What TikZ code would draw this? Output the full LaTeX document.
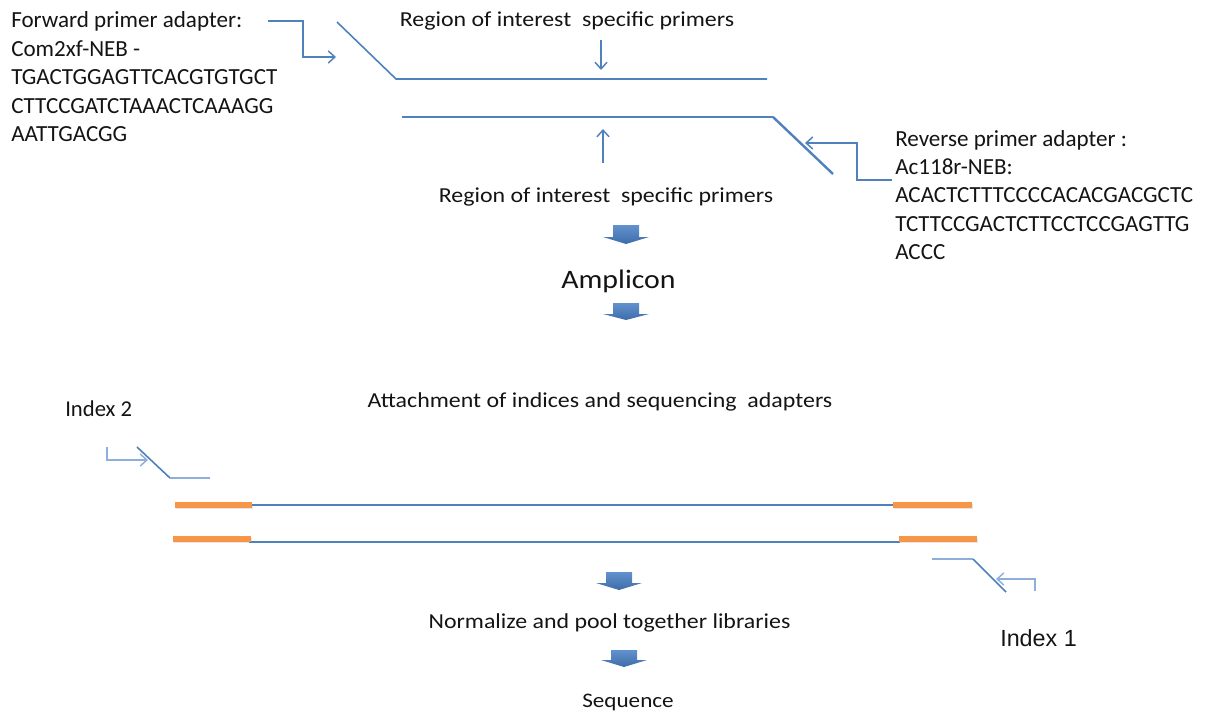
\documentclass[tikz,border=0pt]{standalone}
\usepackage{fontspec}
\setmainfont{Carlito}
\newfontfamily\widefont{Carlito}[FakeStretch=1.12]
\newfontfamily\arialfont{Liberation Sans}
\usetikzlibrary{arrows.meta}
\definecolor{dnablue}{RGB}{79,129,189}
\definecolor{lightblue}{RGB}{141,175,218}
\definecolor{tagorange}{RGB}{247,150,70}
\definecolor{txt}{RGB}{20,20,20}
\definecolor{arrtop}{RGB}{98,146,205}
\definecolor{arrbot}{RGB}{62,108,170}
\newcommand\blockarr[4]{\shade[top color=arrtop,bottom color=arrbot] (#1-13,#2)--(#1+13,#2)--(#1+13,#3)--(#1+23,#3)--(#1,#4)--(#1-23,#3)--(#1-13,#3)--cycle;}
\begin{document}
\begin{tikzpicture}[x=0.75pt,y=-0.75pt,
  seqtxt/.style={anchor=base west,inner sep=0,font=\fontsize{17.3}{21}\selectfont,text=txt},
  steptxt/.style={anchor=base,inner sep=0,font=\widefont\fontsize{16}{19}\selectfont,text=txt},
  strand/.style={draw=dnablue,line width=1.2pt},
  thickstrand/.style={draw=dnablue,line width=1.8pt},
  lightline/.style={draw=lightblue,line width=1.1pt},
  pointer/.style={draw=dnablue,line width=1.1pt,-{Straight Barb[length=5pt,width=9pt]}},
  lightpointer/.style={draw=lightblue,line width=1.1pt,-{Straight Barb[length=5pt,width=9pt]}},
  tag/.style={draw=tagorange,line width=3.8pt},
  tagshadow/.style={draw=black!10,line width=3.8pt}
]
\useasboundingbox (0,0) rectangle (1210,713);

% ---------- forward primer adapter text
\node[seqtxt] (f1) at (11,28) {Forward primer adapter:};
\node[seqtxt] (f2) at (11,56.5) {Com2xf-NEB -};
\node[seqtxt] (f3) at (11,85) {TGACTGGAGTTCACGTGTGCT};
\node[seqtxt] (f4) at (11,113.5) {CTTCCGATCTAAACTCAAAGG};
\node[seqtxt] (f5) at (11,142) {AATTGACGG};

% ---------- reverse primer adapter text
\node[seqtxt] (r1) at (895,147) {Reverse primer adapter :};
\node[seqtxt] (r2) at (895,175) {Ac118r-NEB:};
\node[seqtxt] (r3) at (895,203) {ACACTCTTTCCCCACACGACGCTC};
\node[seqtxt] (r4) at (895,231) {TCTTCCGACTCTTCCTCCGAGTTG};
\node[seqtxt] (r5) at (895,259) {ACCC};

% ---------- region of interest labels
\node[steptxt] (roiTop) at (567,27) {Region of interest\ \ specific primers};
\node[steptxt] (roiBot) at (606,203) {Region of interest\ \ specific primers};

% ---------- primer strands
\coordinate (ts) at (337,22);
\coordinate (tk) at (396,79);
\coordinate (te) at (767,79);
\draw[strand] (ts) -- (tk) -- (te);
\coordinate (bs) at (402,117);
\coordinate (bk) at (773,117);
\coordinate (be) at (833,174);
\draw[strand] (bs) -- (bk);
\draw[thickstrand] (bk) -- (be);

% pointers to strands
\coordinate (dnT) at (601,40);
\coordinate (dnB) at (601,70);
\draw[pointer] (dnT) -- (dnB);
\coordinate (upB) at (603,163);
\coordinate (upT) at (603,129);
\draw[pointer] (upB) -- (upT);

% forward adapter pointer
\coordinate (fa0) at (268,21);
\coordinate (fa1) at (303,21);
\coordinate (fa2) at (303,57);
\coordinate (fa3) at (336,57);
\draw[pointer] (fa0) -- (fa1) -- (fa2) -- (fa3);

% reverse adapter pointer
\coordinate (ra0) at (892,180);
\coordinate (ra1) at (857,180);
\coordinate (ra2) at (857,143);
\coordinate (ra3) at (805,143);
\draw[pointer] (ra0) -- (ra1) -- (ra2) -- (ra3);

% ---------- block arrows and step labels
\blockarr{626}{225}{237}{244}
\node[anchor=base,inner sep=0,font=\widefont\fontsize{20}{24}\selectfont,text=txt] (amp) at (618.5,288) {Amplicon};
\blockarr{626}{303}{314}{320}
\node[steptxt] (attach) at (600,407) {Attachment of indices and sequencing\ \ adapters};
\blockarr{619}{572}{583}{590}
\node[steptxt] (norm) at (609.5,628) {Normalize and pool together libraries};
\blockarr{624}{650}{660}{667}
\node[anchor=base,inner sep=0,font=\widefont\fontsize{15.5}{19}\selectfont,text=txt] (seq) at (628,707) {Sequence};

% ---------- index 2
\node[seqtxt,font=\fontsize{17}{20}\selectfont] (idx2) at (65,416) {Index 2};
\coordinate (i2a) at (107,447);
\coordinate (i2b) at (107,460);
\coordinate (i2c) at (148,460);
\draw[lightpointer] (i2a) -- (i2b) -- (i2c);
\coordinate (i2d) at (137,447);
\coordinate (i2e) at (170,478);
\coordinate (i2f) at (210,478);
\draw[strand] (i2d) -- (i2e);
\draw[lightline] (i2e) -- (i2f);

% ---------- library strands
\coordinate (l1a) at (175,505);
\coordinate (l1b) at (252,505);
\coordinate (l1c) at (893,505);
\coordinate (l1d) at (972,505);
\draw[tagshadow] ([shift={(1,1.5)}]l1a) -- ([shift={(1,1.5)}]l1b);
\draw[tagshadow] ([shift={(1,1.5)}]l1c) -- ([shift={(1,1.5)}]l1d);
\draw[strand] (l1b) -- (l1c);
\draw[tag] (l1a) -- (l1b);
\draw[tag] (l1c) -- (l1d);

\coordinate (l2a) at (173,539);
\coordinate (l2b) at (251,539);
\coordinate (l2s) at (249,542);
\coordinate (l2t) at (900,542);
\coordinate (l2c) at (899,539);
\coordinate (l2d) at (977,539);
\draw[tagshadow] ([shift={(1,1.5)}]l2a) -- ([shift={(1,1.5)}]l2b);
\draw[tagshadow] ([shift={(1,1.5)}]l2c) -- ([shift={(1,1.5)}]l2d);
\draw[strand] (l2s) -- (l2t);
\draw[tag] (l2a) -- (l2b);
\draw[tag] (l2c) -- (l2d);

% ---------- index 1
\coordinate (i1a) at (932,559);
\coordinate (i1b) at (973,559);
\coordinate (i1c) at (1006,592);
\draw[lightline] (i1a) -- (i1b);
\draw[strand] (i1b) -- (i1c);
\coordinate (i1d) at (1035,591);
\coordinate (i1e) at (1035,579);
\coordinate (i1f) at (996,579);
\draw[lightpointer] (i1d) -- (i1e) -- (i1f);
\node[anchor=base west,inner sep=0,font=\arialfont\fontsize{17.5}{21}\selectfont,text=txt] (idx1) at (1000,646) {Index 1};
\end{tikzpicture}
\end{document}
